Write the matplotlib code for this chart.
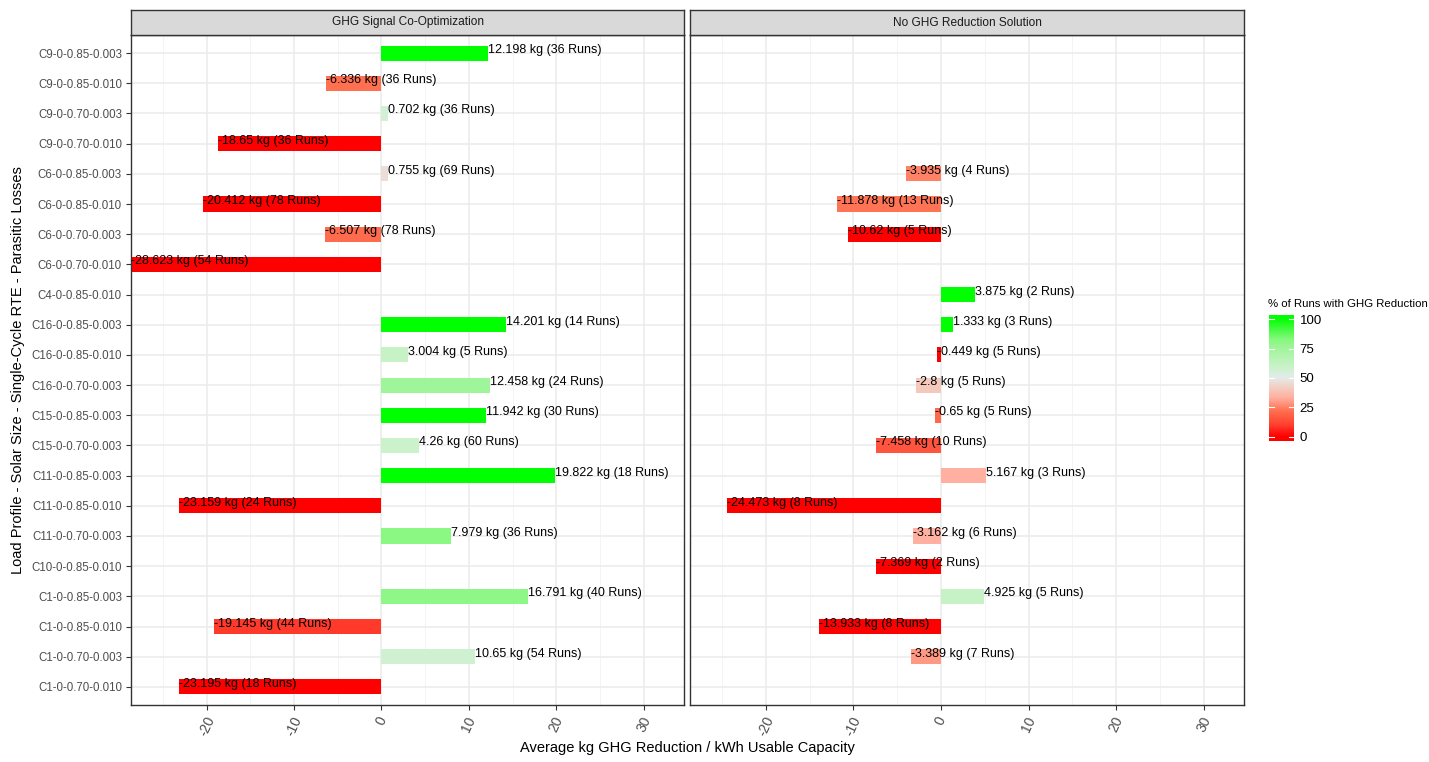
import numpy as np
import matplotlib
matplotlib.use("Agg")
import matplotlib.pyplot as plt
from matplotlib.colors import LinearSegmentedColormap, Normalize

plt.rcParams["font.family"] = ["Liberation Sans", "DejaVu Sans"]

# Scenario labels (bottom to top)
categories = [
    "C1-0-0.70-0.010", "C1-0-0.70-0.003", "C1-0-0.85-0.010", "C1-0-0.85-0.003",
    "C10-0-0.85-0.010", "C11-0-0.70-0.003", "C11-0-0.85-0.010", "C11-0-0.85-0.003",
    "C15-0-0.70-0.003", "C15-0-0.85-0.003", "C16-0-0.70-0.003", "C16-0-0.85-0.010",
    "C16-0-0.85-0.003", "C4-0-0.85-0.010", "C6-0-0.70-0.010", "C6-0-0.70-0.003",
    "C6-0-0.85-0.010", "C6-0-0.85-0.003", "C9-0-0.70-0.010", "C9-0-0.70-0.003",
    "C9-0-0.85-0.010", "C9-0-0.85-0.003",
]

panels = ["GHG Signal Co-Optimization", "No GHG Reduction Solution"]

nan = np.nan

# GHG Signal Co-Optimization
coopt_kg = [-23.195, 10.65, -19.145, 16.791, nan, 7.979, -23.159, 19.822,
            4.26, 11.942, 12.458, 3.004, 14.201, nan, -28.623, -6.507,
            -20.412, 0.755, -18.65, 0.702, -6.336, 12.198]
coopt_runs = [18, 54, 44, 40, nan, 36, 24, 18, 60, 30, 24, 5, 14, nan, 54, 78,
              78, 69, 36, 36, 36, 36]
coopt_pct = [0, 57, 9, 80, nan, 81, 0, 100, 58, 100, 75, 60, 100, nan, 0, 21,
             0, 46, 0, 56, 22, 100]

# No GHG Reduction Solution
nored_kg = [nan, -3.389, -13.933, 4.925, -7.369, -3.162, -24.473, 5.167,
            -7.458, -0.65, -2.8, -0.449, 1.333, 3.875, nan, -10.62,
            -11.878, -3.935, nan, nan, nan, nan]
nored_runs = [nan, 7, 8, 5, 2, 6, 8, 3, 10, 5, 5, 5, 3, 2, nan, 5, 13, 4,
              nan, nan, nan, nan]
nored_pct = [nan, 29, 0, 60, 0, 33, 0, 33, 15, 20, 40, 0, 100, 100, nan, 0,
             23, 25, nan, nan, nan, nan]

x_ticks = [-20, -10, 0, 10, 20, 30]
legend_ticks = [0, 25, 50, 75, 100]

cmap = LinearSegmentedColormap.from_list("runs", [
    (0.00, "#FF0000"), (0.10, "#FF4030"), (0.22, "#FF7050"), (0.33, "#FFB0A0"),
    (0.42, "#F2CFC4"), (0.50, "#E4ECEC"), (0.58, "#CCF2CC"), (0.75, "#A0F59A"),
    (0.82, "#88F880"), (1.00, "#00FF00"),
])
norm = Normalize(0, 100)

W, H = 1429, 762
fig = plt.figure(figsize=(W / 100, H / 100), dpi=100)
fig.patch.set_facecolor("white")


def fx(px):
    return px / W


def fy(py):
    return 1 - py / H


panel_top, panel_bot = 35, 705
strip_top = 10
panel_x = [(131, 684), (690, 1244)]
xlim = (-28.65, 34.6)
ypos = np.arange(len(categories))

data = [(coopt_kg, coopt_runs, coopt_pct), (nored_kg, nored_runs, nored_pct)]

for i, (title, (kg, runs, pct)) in enumerate(zip(panels, data)):
    x0, x1 = panel_x[i]
    ax = fig.add_axes([fx(x0), fy(panel_bot), fx(x1 - x0), (panel_bot - panel_top) / H])
    ax.set_facecolor("white")
    ax.set_xlim(*xlim)
    ax.set_ylim(-0.6, len(categories) - 0.4)

    # grid
    for v in np.arange(-25, 35, 10):
        ax.axvline(v, color="#F2F2F2", lw=0.6, zorder=0)
    for v in x_ticks:
        ax.axvline(v, color="#EBEBEB", lw=1.1, zorder=0)
    for y in ypos:
        ax.axhline(y, color="#EBEBEB", lw=1.1, zorder=0)

    kg_a = np.array(kg, dtype=float)
    pct_a = np.array(pct, dtype=float)
    mask = ~np.isnan(kg_a)
    ax.barh(ypos[mask], kg_a[mask], height=0.5,
            color=cmap(norm(pct_a[mask])), zorder=2)
    for y, v, n in zip(ypos, kg, runs):
        if np.isnan(v):
            continue
        ax.text(v, y + 0.1, f"{v:g} kg ({int(n)} Runs)", ha="left", va="center",
                fontsize=9, color="black", zorder=3, clip_on=True)

    ax.set_xticks(x_ticks)
    ax.set_xticklabels([str(t) for t in x_ticks], rotation=65, ha="center",
                       fontsize=10, color="#4D4D4D")
    ax.tick_params(axis="x", length=3.5, width=0.8, color="#333333", pad=3)
    ax.set_yticks(ypos)
    if i == 0:
        ax.set_yticklabels(categories, fontsize=8.3, color="#4D4D4D")
        ax.tick_params(axis="y", length=3.5, width=0.8, color="#333333", pad=3)
    else:
        ax.set_yticklabels([])
        ax.tick_params(axis="y", length=0)
    for s in ax.spines.values():
        s.set_color("#333333")
        s.set_linewidth(1.0)

    # facet strip
    sax = fig.add_axes([fx(x0), fy(panel_top), fx(x1 - x0), (panel_top - strip_top) / H])
    sax.set_facecolor("#D9D9D9")
    sax.set_xticks([])
    sax.set_yticks([])
    for s in sax.spines.values():
        s.set_color("#333333")
        s.set_linewidth(1.0)
    sax.text(0.5, 0.5, title, ha="center", va="center", fontsize=8.6,
             color="#1A1A1A", transform=sax.transAxes)

# axis titles
fig.text(fx(687), fy(748), "Average kg GHG Reduction / kWh Usable Capacity",
         ha="center", va="center", fontsize=10.5, color="black")
fig.text(fx(18), fy(370), "Load Profile - Solar Size - Single-Cycle RTE - Parasitic Losses",
         ha="center", va="center", rotation=90, fontsize=10.5, color="black")

# colour legend
lb_top, lb_bot = 315, 441
lax = fig.add_axes([fx(1269), fy(lb_bot), fx(25), (lb_bot - lb_top) / H])
lo, hi = -3.4, 103.4
grad = np.linspace(lo, hi, 300).reshape(-1, 1)
lax.imshow(grad, aspect="auto", cmap=cmap, norm=norm, origin="lower",
           extent=[0, 1, lo, hi])
lax.set_xlim(0, 1)
lax.set_ylim(lo, hi)
for t in legend_ticks:
    lax.plot([0, 0.2], [t, t], color="white", lw=0.8)
    lax.plot([0.8, 1], [t, t], color="white", lw=0.8)
lax.set_xticks([])
lax.set_yticks(legend_ticks)
lax.yaxis.tick_right()
lax.set_yticklabels([str(t) for t in legend_ticks], fontsize=9.5, color="black")
lax.tick_params(axis="y", length=0, pad=4)
for s in lax.spines.values():
    s.set_visible(False)
fig.text(fx(1268), fy(304), "% of Runs with GHG Reduction", ha="left", va="center",
         fontsize=8.2, color="black")

fig.savefig("out.png", dpi=100, facecolor="white")
